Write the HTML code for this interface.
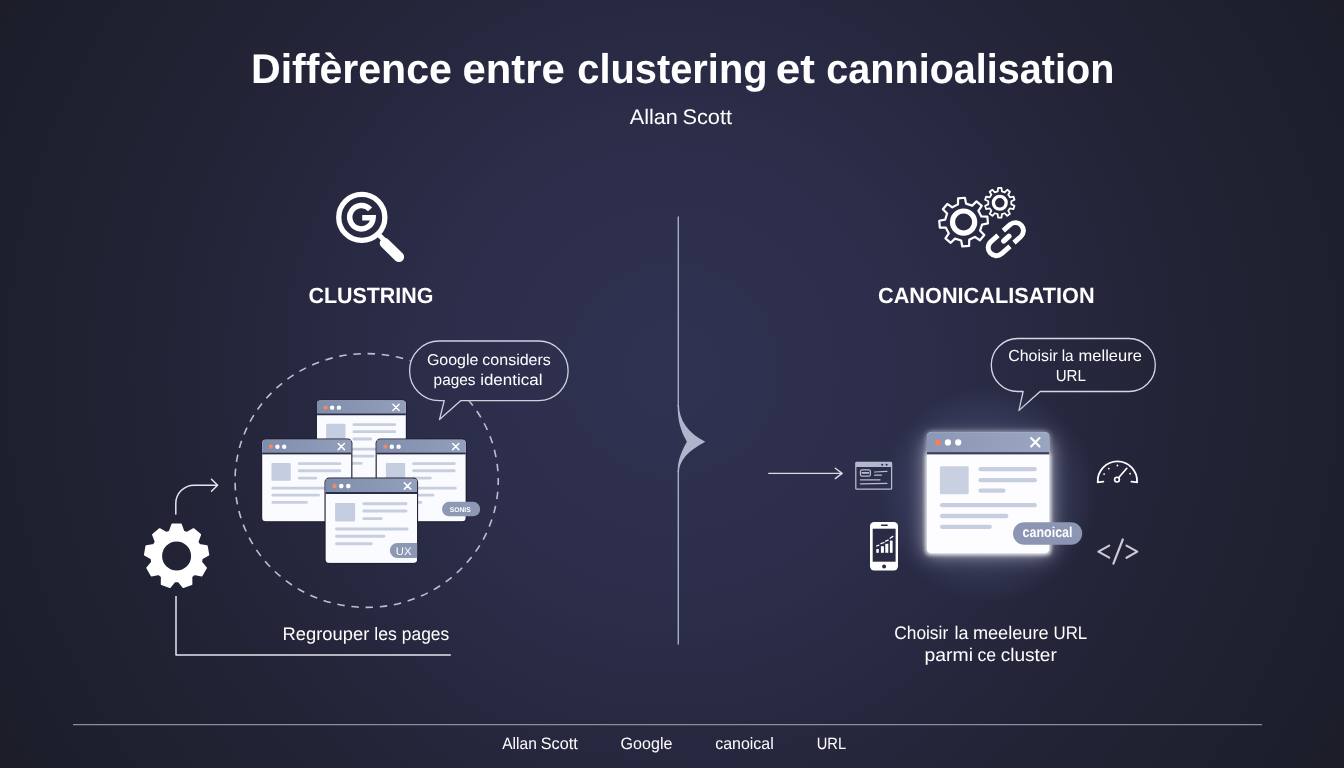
<!DOCTYPE html>
<html lang="fr"><head><meta charset="utf-8"><title>Diffèrence entre clustering et cannioalisation</title>
<style>
html,body{margin:0;padding:0;background:#1c1d2c;}
body{width:1344px;height:768px;overflow:hidden;font-family:"Liberation Sans",sans-serif;}
svg{display:block;font-family:"Liberation Sans",sans-serif;}
text{text-rendering:geometricPrecision;}
</style></head><body>
<svg width="1344" height="768" viewBox="0 0 1344 768">
<defs>
<radialGradient id="bg" cx="672" cy="370" r="780" gradientUnits="userSpaceOnUse">
<stop offset="0" stop-color="#303252"/><stop offset="0.33" stop-color="#2b2d49"/><stop offset="0.66" stop-color="#222335"/><stop offset="0.85" stop-color="#1e202e"/><stop offset="1" stop-color="#1c1d29"/>
</radialGradient>
<linearGradient id="tbg" x1="0" x2="1" y1="0" y2="0"><stop offset="0" stop-color="#7f8dab"/><stop offset="1" stop-color="#93a0bc"/></linearGradient>
<linearGradient id="tbgb" x1="0" x2="1" y1="0" y2="0"><stop offset="0" stop-color="#8b97b4"/><stop offset="1" stop-color="#9aa6c1"/></linearGradient>
<radialGradient id="halo" cx="988" cy="494" r="108" gradientUnits="userSpaceOnUse">
<stop offset="0" stop-color="#7077a3" stop-opacity="0.5"/><stop offset="0.55" stop-color="#5d638f" stop-opacity="0.32"/><stop offset="0.78" stop-color="#555b86" stop-opacity="0.20"/><stop offset="0.9" stop-color="#50567f" stop-opacity="0.11"/><stop offset="1" stop-color="#4a5075" stop-opacity="0"/>
</radialGradient>
<filter id="glow" x="-40%" y="-40%" width="180%" height="180%"><feGaussianBlur stdDeviation="9"/></filter>
<filter id="glow2" x="-40%" y="-40%" width="180%" height="180%"><feGaussianBlur stdDeviation="2.2"/></filter>
</defs>
<rect width="1344" height="768" fill="url(#bg)"/>

<text opacity="0.996" x="250.99" y="83" font-size="41.5" font-weight="bold" fill="#fff" text-anchor="start" textLength="200.89" lengthAdjust="spacingAndGlyphs">Diffèrence</text>
<text opacity="0.996" x="462.57" y="83" font-size="41.5" font-weight="bold" fill="#fff" text-anchor="start" textLength="102.27" lengthAdjust="spacingAndGlyphs">entre</text>
<text opacity="0.996" x="577.25" y="83" font-size="41.5" font-weight="bold" fill="#fff" text-anchor="start" textLength="190.31" lengthAdjust="spacingAndGlyphs">clustering</text>
<text opacity="0.996" x="775.78" y="83" font-size="41.5" font-weight="bold" fill="#fff" text-anchor="start" textLength="39.26" lengthAdjust="spacingAndGlyphs">et</text>
<text opacity="0.996" x="826.36" y="83" font-size="41.5" font-weight="bold" fill="#fff" text-anchor="start" textLength="288.01" lengthAdjust="spacingAndGlyphs">cannioalisation</text>
<text opacity="0.996" x="629.76" y="124.2" font-size="21" font-weight="normal" fill="#fff" text-anchor="start" textLength="48.12" lengthAdjust="spacingAndGlyphs">Allan</text>
<text opacity="0.996" x="682.42" y="124.2" font-size="21" font-weight="normal" fill="#fff" text-anchor="start" textLength="49.63" lengthAdjust="spacingAndGlyphs">Scott</text>
<path d="M678.3,216.5 V407 M678.3,471 V644.5" stroke="#a9adc6" stroke-width="1.4" fill="none"/>
<path d="M679,405 C679,420 688,433 705.3,441.7 C688,450.5 679,461 679,472 L677.6,472 C677.6,461 681,452 686.9,441.7 C681,431.5 677.6,421 677.6,405 Z" fill="#b0b4cc"/>
<g stroke="#fff" fill="none">
<circle cx="361.8" cy="217.4" r="23.05" stroke-width="5.3"/>
<path d="M378,234 L385,241" stroke-width="5"/>
<path d="M384.8,243.2 L399,257" stroke-width="10.2" stroke-linecap="round"/>
<path d="M370.09,209.37 A11.7,11.7 0 1 0 373.10,217.80 H362.20" stroke-width="5.5" stroke-linejoin="miter"/>
</g>
<text opacity="0.996" x="308.42" y="302.9" font-size="22" font-weight="bold" fill="#fff" text-anchor="start" textLength="125.01" lengthAdjust="spacingAndGlyphs">CLUSTRING</text>
<mask id="mb" maskUnits="userSpaceOnUse" x="0" y="0" width="1344" height="768"><rect width="1344" height="768" fill="#fff"/><path d="M439.20000000000005,341 H538.5 A29.6,29.6 0 0 1 568.1,370.6 V371.0 A29.6,29.6 0 0 1 538.5,400.6 H460.9 L439.5,419.6 L444.2,400.6 H439.20000000000005 A29.6,29.6 0 0 1 409.6,371.0 V370.6 A29.6,29.6 0 0 1 439.20000000000005,341 Z" fill="#000" stroke="#000" stroke-width="1.5"/></mask>
<ellipse cx="366.65" cy="480.5" rx="131.6" ry="126.9" fill="none" stroke="#bcbed1" stroke-width="1.6" stroke-dasharray="7.5 6.75" stroke-dashoffset="2.95" mask="url(#mb)"/>
<path d="M439.20000000000005,341 H538.5 A29.6,29.6 0 0 1 568.1,370.6 V371.0 A29.6,29.6 0 0 1 538.5,400.6 H460.9 L439.5,419.6 L444.2,400.6 H439.20000000000005 A29.6,29.6 0 0 1 409.6,371.0 V370.6 A29.6,29.6 0 0 1 439.20000000000005,341 Z" fill="none" stroke="#cfd1df" stroke-width="1.3" stroke-linejoin="round"/>
<text opacity="0.996" x="426.9" y="364.7" font-size="15.6" font-weight="normal" fill="#fff" text-anchor="start" textLength="51.51" lengthAdjust="spacingAndGlyphs">Google</text>
<text opacity="0.996" x="482.33" y="364.7" font-size="15.6" font-weight="normal" fill="#fff" text-anchor="start" textLength="68.55" lengthAdjust="spacingAndGlyphs">considers</text>
<text opacity="0.996" x="433.62" y="384.8" font-size="15.6" font-weight="normal" fill="#fff" text-anchor="start" textLength="41.93" lengthAdjust="spacingAndGlyphs">pages</text>
<text opacity="0.996" x="480.18" y="384.8" font-size="15.6" font-weight="normal" fill="#fff" text-anchor="start" textLength="62.24" lengthAdjust="spacingAndGlyphs">identical</text>
<g transform="translate(316.8,400.3)"><rect x="-0.9" y="-0.9" width="90.90" height="83.80" rx="4.76" fill="#1d1e33"/><clipPath id="ca"><rect width="89.10" height="82.00" rx="3.86"/></clipPath><g clip-path="url(#ca)"><rect width="89.10" height="82.00" fill="#fafbfe"/><rect width="89.10" height="13.03" fill="url(#tbg)"/><rect y="13.03" width="89.10" height="1.93" fill="#2a2c48"/></g><circle cx="8.88" cy="7.33" r="2.12" fill="#f08a60"/><circle cx="15.34" cy="7.33" r="2.22" fill="#fff"/><circle cx="22.10" cy="7.33" r="2.22" fill="#fff"/><path d="M76.14,4.05 L82.31,10.23 M82.31,4.05 L76.14,10.23" stroke="#fff" stroke-width="1.45" stroke-linecap="round" fill="none"/><rect x="9.36" y="23.55" width="19.30" height="17.85" rx="0.8" fill="#c5cde0"/><rect x="35.70" y="22.92" width="43.52" height="2.80" rx="1.40" fill="#c6cee0"/><rect x="35.70" y="29.96" width="43.52" height="2.80" rx="1.40" fill="#c6cee0"/><rect x="35.70" y="37.30" width="19.59" height="2.80" rx="1.40" fill="#c6cee0"/><rect x="9.36" y="47.33" width="70.83" height="2.80" rx="1.40" fill="#c6cee0"/><rect x="9.36" y="54.38" width="48.44" height="2.80" rx="1.40" fill="#c6cee0"/><rect x="9.36" y="61.62" width="36.38" height="2.80" rx="1.40" fill="#c6cee0"/></g>
<g transform="translate(262.1,439.4)"><rect x="-0.9" y="-0.9" width="91.20" height="83.80" rx="4.76" fill="#1d1e33"/><clipPath id="cb"><rect width="89.40" height="82.00" rx="3.86"/></clipPath><g clip-path="url(#cb)"><rect width="89.40" height="82.00" fill="#fafbfe"/><rect width="89.40" height="13.03" fill="url(#tbg)"/><rect y="13.03" width="89.40" height="1.93" fill="#2a2c48"/></g><circle cx="8.88" cy="7.33" r="2.12" fill="#f08a60"/><circle cx="15.34" cy="7.33" r="2.22" fill="#fff"/><circle cx="22.10" cy="7.33" r="2.22" fill="#fff"/><path d="M76.14,4.05 L82.31,10.23 M82.31,4.05 L76.14,10.23" stroke="#fff" stroke-width="1.45" stroke-linecap="round" fill="none"/><rect x="9.36" y="23.55" width="19.30" height="17.85" rx="0.8" fill="#c5cde0"/><rect x="35.70" y="22.92" width="43.52" height="2.80" rx="1.40" fill="#c6cee0"/><rect x="35.70" y="29.96" width="43.52" height="2.80" rx="1.40" fill="#c6cee0"/><rect x="35.70" y="37.30" width="19.59" height="2.80" rx="1.40" fill="#c6cee0"/><rect x="9.36" y="47.33" width="70.83" height="2.80" rx="1.40" fill="#c6cee0"/><rect x="9.36" y="54.38" width="48.44" height="2.80" rx="1.40" fill="#c6cee0"/><rect x="9.36" y="61.62" width="36.38" height="2.80" rx="1.40" fill="#c6cee0"/></g>
<g transform="translate(376.5,439.4)"><rect x="-0.9" y="-0.9" width="91.10" height="83.80" rx="4.76" fill="#1d1e33"/><clipPath id="cc"><rect width="89.30" height="82.00" rx="3.86"/></clipPath><g clip-path="url(#cc)"><rect width="89.30" height="82.00" fill="#fafbfe"/><rect width="89.30" height="13.03" fill="url(#tbg)"/><rect y="13.03" width="89.30" height="1.93" fill="#2a2c48"/></g><circle cx="8.88" cy="7.33" r="2.12" fill="#f08a60"/><circle cx="15.34" cy="7.33" r="2.22" fill="#fff"/><circle cx="22.10" cy="7.33" r="2.22" fill="#fff"/><path d="M76.14,4.05 L82.31,10.23 M82.31,4.05 L76.14,10.23" stroke="#fff" stroke-width="1.45" stroke-linecap="round" fill="none"/><rect x="9.36" y="23.55" width="19.30" height="17.85" rx="0.8" fill="#c5cde0"/><rect x="35.70" y="22.92" width="43.52" height="2.80" rx="1.40" fill="#c6cee0"/><rect x="35.70" y="29.96" width="43.52" height="2.80" rx="1.40" fill="#c6cee0"/><rect x="35.70" y="37.30" width="19.59" height="2.80" rx="1.40" fill="#c6cee0"/><rect x="9.36" y="47.33" width="70.83" height="2.80" rx="1.40" fill="#c6cee0"/><rect x="9.36" y="54.38" width="48.44" height="2.80" rx="1.40" fill="#c6cee0"/><rect x="9.36" y="61.62" width="36.38" height="2.80" rx="1.40" fill="#c6cee0"/></g>
<g transform="translate(325.4,478.5)"><rect x="-0.9" y="-0.9" width="93.60" height="86.20" rx="4.90" fill="#1d1e33"/><clipPath id="cd"><rect width="91.80" height="84.40" rx="4.00"/></clipPath><g clip-path="url(#cd)"><rect width="91.80" height="84.40" fill="#fafbfe"/><rect width="91.80" height="13.50" fill="url(#tbg)"/><rect y="13.50" width="91.80" height="2.00" fill="#2a2c48"/></g><circle cx="9.20" cy="7.60" r="2.20" fill="#f08a60"/><circle cx="15.90" cy="7.60" r="2.30" fill="#fff"/><circle cx="22.90" cy="7.60" r="2.30" fill="#fff"/><path d="M78.90,4.20 L85.30,10.60 M85.30,4.20 L78.90,10.60" stroke="#fff" stroke-width="1.50" stroke-linecap="round" fill="none"/><rect x="9.70" y="24.40" width="20.00" height="18.50" rx="0.8" fill="#c5cde0"/><rect x="37.00" y="23.75" width="45.10" height="2.90" rx="1.45" fill="#c6cee0"/><rect x="37.00" y="31.05" width="45.10" height="2.90" rx="1.45" fill="#c6cee0"/><rect x="37.00" y="38.65" width="20.30" height="2.90" rx="1.45" fill="#c6cee0"/><rect x="9.70" y="49.05" width="73.40" height="2.90" rx="1.45" fill="#c6cee0"/><rect x="9.70" y="56.35" width="50.20" height="2.90" rx="1.45" fill="#c6cee0"/><rect x="9.70" y="63.85" width="37.70" height="2.90" rx="1.45" fill="#c6cee0"/></g>
<rect x="442" y="501.8" width="38.2" height="14.45" rx="7.2" fill="#8d98b3"/>
<text opacity="0.996" x="449.81" y="511.9" font-size="6.8" font-weight="bold" fill="#fff" text-anchor="start" textLength="20.85" lengthAdjust="spacingAndGlyphs">SONIS</text>
<path d="M397.3,543.1 H417.2 V557.9 H397.3 A7.4,7.4 0 0 1 397.3,543.1Z" fill="#8d98b3"/>
<text opacity="0.996" x="395.83" y="554.6" font-size="10.9" font-weight="normal" fill="#fff" text-anchor="start" textLength="15.66" lengthAdjust="spacingAndGlyphs">UX</text>
<path d="M169.60,531.58 L172.16,524.41 L181.04,524.41 L183.60,531.58 L186.93,532.80 L193.50,528.95 L200.31,534.65 L197.66,541.80 L199.43,544.87 L206.94,546.14 L208.48,554.89 L201.86,558.66 L201.25,562.14 L206.18,567.95 L201.74,575.64 L194.24,574.27 L191.53,576.55 L191.58,584.17 L183.23,587.20 L178.37,581.34 L174.83,581.34 L169.97,587.20 L161.62,584.17 L161.67,576.55 L158.96,574.27 L151.46,575.64 L147.02,567.95 L151.95,562.14 L151.34,558.66 L144.72,554.89 L146.26,546.14 L153.77,544.87 L155.54,541.80 L152.89,534.65 L159.70,528.95 L166.27,532.80Z M191.9,556 a15.3,15.3 0 1 0 -30.6,0 a15.3,15.3 0 1 0 30.6,0Z" fill="#fff" fill-rule="evenodd" stroke="#fff" stroke-width="1.6" stroke-linejoin="round"/>
<g stroke="#e4e5ee" stroke-width="1.5" fill="none" stroke-linecap="round" stroke-linejoin="round">
<path d="M175.8,513.9 V503.5 A18.3,18.3 0 0 1 194.1,485.2 H217.3"/>
<path d="M211.5,479.2 L217.6,485.2 L211.5,491.2"/>
<path d="M176,596 V654.9 H450.8" stroke-linecap="butt"/>
</g>
<text opacity="0.996" x="282.6" y="640.3" font-size="18" font-weight="normal" fill="#fff" text-anchor="start" textLength="86.7" lengthAdjust="spacingAndGlyphs">Regrouper</text>
<text opacity="0.996" x="374.21" y="640.3" font-size="18" font-weight="normal" fill="#fff" text-anchor="start" textLength="22.63" lengthAdjust="spacingAndGlyphs">les</text>
<text opacity="0.996" x="401.79" y="640.3" font-size="18" font-weight="normal" fill="#fff" text-anchor="start" textLength="47.43" lengthAdjust="spacingAndGlyphs">pages</text>
<g stroke="#fff" fill="none" stroke-linejoin="round">
<path d="M957.98,204.37 L958.07,198.33 L964.92,197.74 L966.06,203.66 L972.16,205.59 L976.49,201.39 L981.76,205.80 L978.38,210.80 L981.33,216.48 L987.37,216.57 L987.96,223.42 L982.04,224.56 L980.11,230.66 L984.31,234.99 L979.90,240.26 L974.90,236.88 L969.22,239.83 L969.13,245.87 L962.28,246.46 L961.14,240.54 L955.04,238.61 L950.71,242.81 L945.44,238.40 L948.82,233.40 L945.87,227.72 L939.83,227.63 L939.24,220.78 L945.16,219.64 L947.09,213.54 L942.89,209.21 L947.30,203.94 L952.30,207.32Z" stroke-width="2.2"/>
<circle cx="963.6" cy="222.1" r="11.1" stroke-width="5.2"/>
<path d="M997.70,191.39 L998.11,187.90 L1001.49,187.90 L1001.90,191.39 L1004.80,192.34 L1007.19,189.75 L1009.93,191.74 L1008.21,194.81 L1010.00,197.28 L1013.45,196.58 L1014.50,199.80 L1011.30,201.27 L1011.30,204.33 L1014.50,205.80 L1013.45,209.02 L1010.00,208.32 L1008.21,210.79 L1009.93,213.86 L1007.19,215.85 L1004.80,213.26 L1001.90,214.21 L1001.49,217.70 L998.11,217.70 L997.70,214.21 L994.80,213.26 L992.41,215.85 L989.67,213.86 L991.39,210.79 L989.60,208.32 L986.15,209.02 L985.10,205.80 L988.30,204.33 L988.30,201.27 L985.10,199.80 L986.15,196.58 L989.60,197.28 L991.39,194.81 L989.67,191.74 L992.41,189.75 L994.80,192.34Z" stroke-width="1.8"/>
<circle cx="999.8" cy="202.8" r="6.4" stroke-width="3.3"/>
</g>
<g transform="translate(1005.8,239.1) rotate(-41.5)" stroke="#fff" stroke-width="4.9" fill="none">
<path d="M-3.3,-8 H-12.75 A8.1,8.1 0 0 0 -12.75,8.2 H-1.7"/>
<path d="M3.75,8.1 H12.75 A8.05,8.05 0 0 0 12.75,-8 H3.75"/>
<path d="M-2.8,0 H4.2" stroke-linecap="round" stroke-width="5.2"/>
</g>
<text opacity="0.996" x="878.01" y="303.2" font-size="22" font-weight="bold" fill="#fff" text-anchor="start" textLength="216.64" lengthAdjust="spacingAndGlyphs">CANONICALISATION</text>
<path d="M1017.5999999999999,338.5 H1129.0 A26.3,26.3 0 0 1 1155.3,364.8 V365.2 A26.3,26.3 0 0 1 1129.0,391.5 H1040.1 L1018.9,410.6 L1023.1,391.5 H1017.5999999999999 A26.3,26.3 0 0 1 991.3,365.2 V364.8 A26.3,26.3 0 0 1 1017.5999999999999,338.5 Z" fill="none" stroke="#d5d7e4" stroke-width="1.3" stroke-linejoin="round"/>
<text opacity="0.996" x="1008.2" y="361.4" font-size="16" font-weight="normal" fill="#fff" text-anchor="start" textLength="49.55" lengthAdjust="spacingAndGlyphs">Choisir</text>
<text opacity="0.996" x="1061.67" y="361.4" font-size="16" font-weight="normal" fill="#fff" text-anchor="start" textLength="11.92" lengthAdjust="spacingAndGlyphs">la</text>
<text opacity="0.996" x="1078.61" y="361.4" font-size="16" font-weight="normal" fill="#fff" text-anchor="start" textLength="63.21" lengthAdjust="spacingAndGlyphs">melleure</text>
<text opacity="0.996" x="1055.64" y="380.5" font-size="16" font-weight="normal" fill="#fff" text-anchor="start" textLength="30.17" lengthAdjust="spacingAndGlyphs">URL</text>
<circle cx="988" cy="494" r="110" fill="url(#halo)"/>
<rect x="924" y="438" width="128" height="118" rx="9" fill="#ffffff" opacity="0.5" filter="url(#glow)"/>
<rect x="925.8" y="431.1" width="124.6" height="123.4" rx="6" fill="#cfd3e6" opacity="0.55" filter="url(#glow2)"/>
<rect x="925.8" y="453" width="124.6" height="101.5" rx="3" fill="#ffffff" opacity="0.85" filter="url(#glow2)"/>
<g transform="translate(926.8,432.1)"><clipPath id="ce"><rect width="122.60" height="121.40" rx="5.00"/></clipPath><g clip-path="url(#ce)"><rect width="122.60" height="121.40" fill="#fdfdff"/><rect width="122.60" height="20.00" fill="url(#tbgb)"/><rect y="20.00" width="122.60" height="2.30" fill="#3a3e5e"/></g><circle cx="11.2" cy="10.3" r="2.9" fill="#f0815a"/><circle cx="21.1" cy="10.3" r="3.1" fill="#fff"/><circle cx="31.4" cy="10.3" r="3.1" fill="#fff"/><path d="M104.3,6 l8.4,8.4 m0,-8.4 l-8.4,8.4" stroke="#fff" stroke-width="2.1" stroke-linecap="round" fill="none"/><rect x="13.1" y="34.2" width="28.8" height="27.9" rx="1.5" fill="#c9d0e2"/><rect x="51.60" y="34.85" width="58.50" height="4.30" rx="2.15" fill="#c6cee0"/><rect x="51.60" y="45.95" width="58.50" height="4.30" rx="2.15" fill="#c6cee0"/><rect x="51.60" y="56.45" width="27.10" height="4.30" rx="2.15" fill="#c6cee0"/><rect x="13.10" y="70.95" width="97.00" height="4.30" rx="2.15" fill="#c6cee0"/><rect x="13.10" y="81.75" width="68.50" height="4.30" rx="2.15" fill="#c6cee0"/><rect x="13.10" y="92.55" width="52.00" height="4.30" rx="2.15" fill="#c6cee0"/></g>
<rect x="1013" y="522.3" width="69.2" height="22.5" rx="11.25" fill="#8c96b4"/>
<text opacity="0.996" x="1022.61" y="537.1" font-size="14.3" font-weight="bold" fill="#fff" text-anchor="start" textLength="49.86" lengthAdjust="spacingAndGlyphs">canoical</text>
<g stroke="#d9dae6" stroke-width="1.4" fill="none" stroke-linecap="round" stroke-linejoin="round">
<path d="M768.8,473.4 H841.8"/><path d="M835.3,468.2 L842.1,473.4 L835.3,478.6"/>
</g>
<g stroke="#b9bcd0" stroke-width="1.25" fill="none" stroke-linecap="round">
<rect x="855.8" y="462.4" width="35.8" height="26.8" rx="0.8"/>
<rect x="856" y="462.6" width="35.4" height="4.4" fill="#b4b8cd" stroke="none"/>
<rect x="860.4" y="469.8" width="10" height="6.2" rx="1.6"/>
<path d="M862.2,472.9 H868.6" stroke-width="1.6"/>
<path d="M874.6,472 L887,471.4 M874.6,475.2 H881.5 M860.4,479.8 H880 M860.4,483.9 L887,483.3"/>
</g>
<circle cx="882.2" cy="464.8" r="1.05" fill="#2a2c47"/><circle cx="886.6" cy="464.8" r="1.05" fill="#2a2c47"/>
<rect x="870" y="521.9" width="28" height="48.6" rx="4.2" fill="#fff"/>
<rect x="872.7" y="528.7" width="22.9" height="33" fill="#2a2c46"/>
<rect x="880.9" y="524.4" width="7" height="1.5" rx="0.75" fill="#2a2c46"/>
<circle cx="884.1" cy="566.4" r="2" fill="#2a2c46"/>
<g fill="#fff"><rect x="876.3" y="549" width="2.5" height="3.8"/><rect x="880.9" y="546.2" width="3" height="6.6"/><rect x="885.3" y="543.8" width="3" height="9"/><rect x="889.9" y="540.6" width="2.7" height="12.2"/></g>
<path d="M876.6,546 L878.8,545.2 M881,543.6 L884,542.5 M885.6,541.2 L888.2,540.2 M890.2,538.2 L892.8,536.4" stroke="#fff" stroke-width="1.3" fill="none" stroke-linecap="round"/>
<g stroke="#fff" stroke-width="1.8" fill="none" stroke-linecap="round">
<path d="M1103.4,481.6 L1097.74,482.3 A19.7,19.7 0 1 1 1137.06,482.3 L1131.4,481.6"/>
<circle cx="1117" cy="479.6" r="2.4" stroke-width="1.6"/>
<path d="M1118.6,477.7 L1126.8,468.3" stroke-width="1.7"/>
</g>
<g fill="#fff"><circle cx="1108.8" cy="468.6" r="0.9"/><circle cx="1117.4" cy="465.5" r="0.9"/><circle cx="1130.1" cy="473.7" r="0.9"/><circle cx="1104.1" cy="474.1" r="0.9"/></g>
<g stroke="#c9cad6" stroke-width="2.2" fill="none" stroke-linecap="round" stroke-linejoin="round">
<path d="M1109.2,545.6 L1098.4,551.6 L1109.2,557.6"/><path d="M1122.8,539.5 L1113.4,563.7"/><path d="M1126.5,545.6 L1137.3,551.6 L1126.5,557.8"/>
</g>
<text opacity="0.996" x="894.23" y="639.2" font-size="18.3" font-weight="normal" fill="#fff" text-anchor="start" textLength="53.94" lengthAdjust="spacingAndGlyphs">Choisir</text>
<text opacity="0.996" x="954.4" y="639.2" font-size="18.3" font-weight="normal" fill="#fff" text-anchor="start" textLength="13.99" lengthAdjust="spacingAndGlyphs">la</text>
<text opacity="0.996" x="972.9" y="639.2" font-size="18.3" font-weight="normal" fill="#fff" text-anchor="start" textLength="75.7" lengthAdjust="spacingAndGlyphs">meeleure</text>
<text opacity="0.996" x="1053.5" y="639.2" font-size="18.3" font-weight="normal" fill="#fff" text-anchor="start" textLength="33.66" lengthAdjust="spacingAndGlyphs">URL</text>
<text opacity="0.996" x="924.56" y="660.5" font-size="18.3" font-weight="normal" fill="#fff" text-anchor="start" textLength="48.45" lengthAdjust="spacingAndGlyphs">parmi</text>
<text opacity="0.996" x="977.46" y="660.5" font-size="18.3" font-weight="normal" fill="#fff" text-anchor="start" textLength="18.73" lengthAdjust="spacingAndGlyphs">ce</text>
<text opacity="0.996" x="1000.7" y="660.5" font-size="18.3" font-weight="normal" fill="#fff" text-anchor="start" textLength="56.11" lengthAdjust="spacingAndGlyphs">cluster</text>
<path d="M73,724.6 H1262" stroke="#8b8d9d" stroke-width="1.2" fill="none"/>
<text opacity="0.996" x="502.27" y="749" font-size="16.5" font-weight="normal" fill="#fff" text-anchor="start" textLength="34.52" lengthAdjust="spacingAndGlyphs">Allan</text>
<text opacity="0.996" x="540.77" y="749" font-size="16.5" font-weight="normal" fill="#fff" text-anchor="start" textLength="36.94" lengthAdjust="spacingAndGlyphs">Scott</text>
<text opacity="0.996" x="620.6" y="749" font-size="16.5" font-weight="normal" fill="#fff" text-anchor="start" textLength="51.82" lengthAdjust="spacingAndGlyphs">Google</text>
<text opacity="0.996" x="715.23" y="749" font-size="16.5" font-weight="normal" fill="#fff" text-anchor="start" textLength="58.52" lengthAdjust="spacingAndGlyphs">canoical</text>
<text opacity="0.996" x="816.77" y="749" font-size="16.5" font-weight="normal" fill="#fff" text-anchor="start" textLength="29.32" lengthAdjust="spacingAndGlyphs">URL</text>
</svg></body></html>
